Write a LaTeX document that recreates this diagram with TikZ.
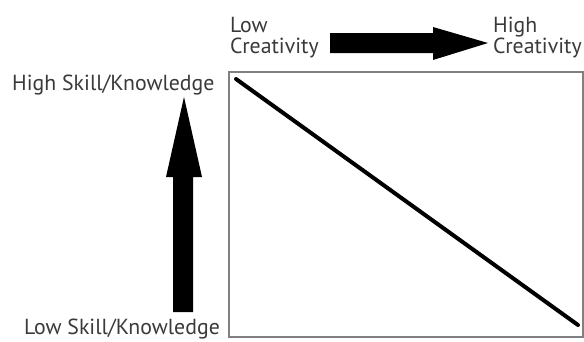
\documentclass[tikz,border=0pt]{standalone}
\usepackage{fontspec}
\setmainfont{PT Sans}
\definecolor{txt}{HTML}{3A3A3A}
\definecolor{frame}{HTML}{808080}
\begin{document}
\begin{tikzpicture}[x=1pt,y=-1pt,
  lbl/.style={inner sep=0pt,anchor=base west,text=txt,font=\fontsize{21.8}{24}\selectfont},
  bigarrow/.style={fill=black,draw=none}]
\useasboundingbox (0,0) rectangle (584,341);
\fill[white] (0,0) rectangle (584,341);
% frame
\draw[frame,line width=1.6pt] (229,72) rectangle (583,337);
% diagonal
\coordinate (d1) at (236,79);
\coordinate (d2) at (578,325);
\draw[line width=4pt,line cap=round] (d1) -- (d2);
% labels
\node[lbl] (lowc1) at (230,32) {Low};
\node[lbl] (lowc2) at (230,53) {Creativity};
\node[lbl] (highc1) at (493,32) {High};
\node[lbl] (highc2) at (493,53) {Creativity};
\node[lbl] (highs) at (12,90) {High Skill/Knowledge};
\node[lbl] (lows) at (24,334) {Low Skill/Knowledge};
% horizontal arrow
\fill[bigarrow] (330,33) -- (433,33) -- (433,27) -- (488,43) -- (433,60) -- (433,53) -- (330,53) -- cycle;
% vertical arrow
\fill[bigarrow] (173,312) -- (173,177) -- (166,177) -- (184,97) -- (202,177) -- (193,177) -- (193,312) -- cycle;
\end{tikzpicture}
\end{document}
